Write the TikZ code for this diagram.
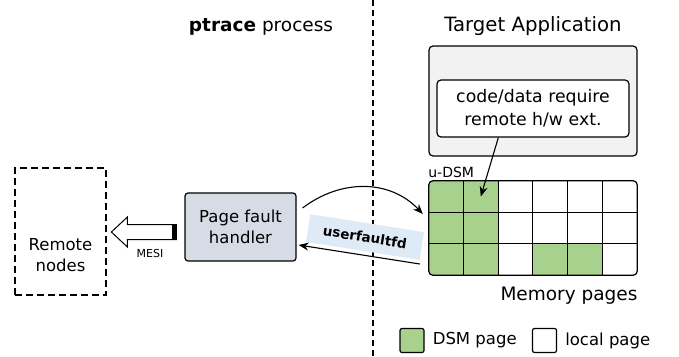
\documentclass[tikz,border=0pt]{standalone}
\usepackage{fontspec}
\setmainfont{DejaVu Sans}
\usetikzlibrary{arrows.meta, positioning, calc}

\definecolor{dsmgreen}{HTML}{A9D18E}
\definecolor{pfhblue}{HTML}{D6DCE5}
\definecolor{ufdblue}{HTML}{DEEAF6}
\definecolor{appgray}{HTML}{F2F2F2}

\tikzset{
  box/.style={draw, line width=1.2pt, rounded corners=4pt, align=center,
    font=\fontsize{16.5}{21}\selectfont},
  keybox/.style={draw, line width=1.2pt, rounded corners=2pt, minimum size=24pt, inner sep=0pt},
  grid line/.style={line width=1.2pt},
  conn/.style={line width=1.1pt, -{Stealth[length=10pt,width=8pt]}},
  body/.style={font=\fontsize{16.5}{21}\selectfont},
  head/.style={font=\fontsize{18.5}{22}\selectfont}
}

\begin{document}
\begin{tikzpicture}[x=1pt,y=-1pt]
    \useasboundingbox (0,0) rectangle (679,356);

    % process boundary
    \draw[line width=1.2pt, dash pattern=on 6pt off 4pt] (373,0) -- (373,356);

    \node[head] (ptr) at (261,27) {\textbf{ptrace} process};
    \node[head, font=\fontsize{19.7}{22}\selectfont] (tgt) at (533,26) {Target Application};

    % target application
    \node[box, fill=appgray, minimum width=208pt, minimum height=110pt] (app) at (533,101) {};
    \node[box, fill=white, minimum width=192pt, minimum height=57pt, font=\fontsize{17.3}{23}\selectfont] (req) at (533,108.5)
        {code/data require\\remote h/w ext.};

    % memory pages
    \node[minimum width=208pt, minimum height=94pt, inner sep=0pt] (mem) at (533,228) {};
    \begin{scope}
        \clip[rounded corners=4pt] (mem.north west) rectangle (mem.south east);
        \foreach \c/\r in {0/0,1/0,0/1,1/1,0/2,1/2,3/2,4/2}
            \fill[dsmgreen] ($(mem.north west)+(\c*34.667,\r*31.333)$) rectangle ++(34.667,31.333);
    \end{scope}
    \foreach \c in {1,...,5}
        \draw[grid line] ($(mem.north west)+(\c*34.667,0)$) -- ++(0,94);
    \foreach \r in {1,2}
        \draw[grid line] ($(mem.north west)+(0,\r*31.333)$) -- ++(208,0);
    \draw[grid line, rounded corners=4pt] (mem.north west) rectangle (mem.south east);

    \node[anchor=south west, font=\fontsize{14}{16}\selectfont] (udsm) at ([xshift=-4pt]mem.north west) {u-DSM};
    \node[head] (mpg) at (569,296) {Memory pages};

    \coordinate (pg) at ($(mem.north west)+(52,15.667)$);
    \draw[conn] (req.220) -- (pg);

    % page fault handler
    \node[box, fill=pfhblue, rounded corners=3pt, minimum width=111pt, minimum height=68pt] (pfh) at (240.5,227)
        {Page fault\\handler};

    % remote side
    \node[draw, line width=1.2pt, dash pattern=on 7pt off 4pt, minimum width=91pt, minimum height=127pt] (remote) at (60.5,231.5) {};
    \node[body, align=center] (rtxt) at ([yshift=-24pt]remote.center) {Remote\\nodes};

    % hollow MESI arrow towards the remote nodes
    \coordinate (mt) at ([xshift=-8pt,yshift=-5pt]pfh.west);
    \draw[line width=1pt, fill=white] (mt) ++(0,-7.5) -- ++(-49,0) -- ++(0,-7.5) -- ++(-16,15)
        -- ++(16,15) -- ++(0,-7.5) -- ++(49,0) -- cycle;
    \draw[line width=4pt] ([xshift=-2pt,yshift=8pt]mt) -- ([xshift=-2pt,yshift=-8pt]mt);
    \node[font=\fontsize{11}{13}\selectfont] (mesil) at (150,253) {MESI};

    % fault path
    \node[fill=ufdblue, rotate=-9, minimum width=115pt, minimum height=28pt,
        font=\fontsize{13.5}{16}\selectfont\bfseries] (ufd) at (365,237) {userfaultfd};

    \draw[conn] ([xshift=6pt,yshift=19pt]pfh.east) .. controls +(38,-29) and +(-33,-35) .. ([xshift=-6pt,yshift=14pt]mem.west);
    \draw[conn] ([xshift=-9pt,yshift=-36pt]mem.west) -- ([xshift=2pt,yshift=-18pt]pfh.east);

    % legend
    \node[keybox, fill=dsmgreen] (kdsm) at (412,340.5) {};
    \node[body, right=6pt of kdsm, inner sep=2pt] (kdsmt) {DSM page};
    \node[keybox, fill=white] (kloc) at (544.5,340.5) {};
    \node[body, right=6pt of kloc, inner sep=2pt] (kloct) {local page};
\end{tikzpicture}
\end{document}
